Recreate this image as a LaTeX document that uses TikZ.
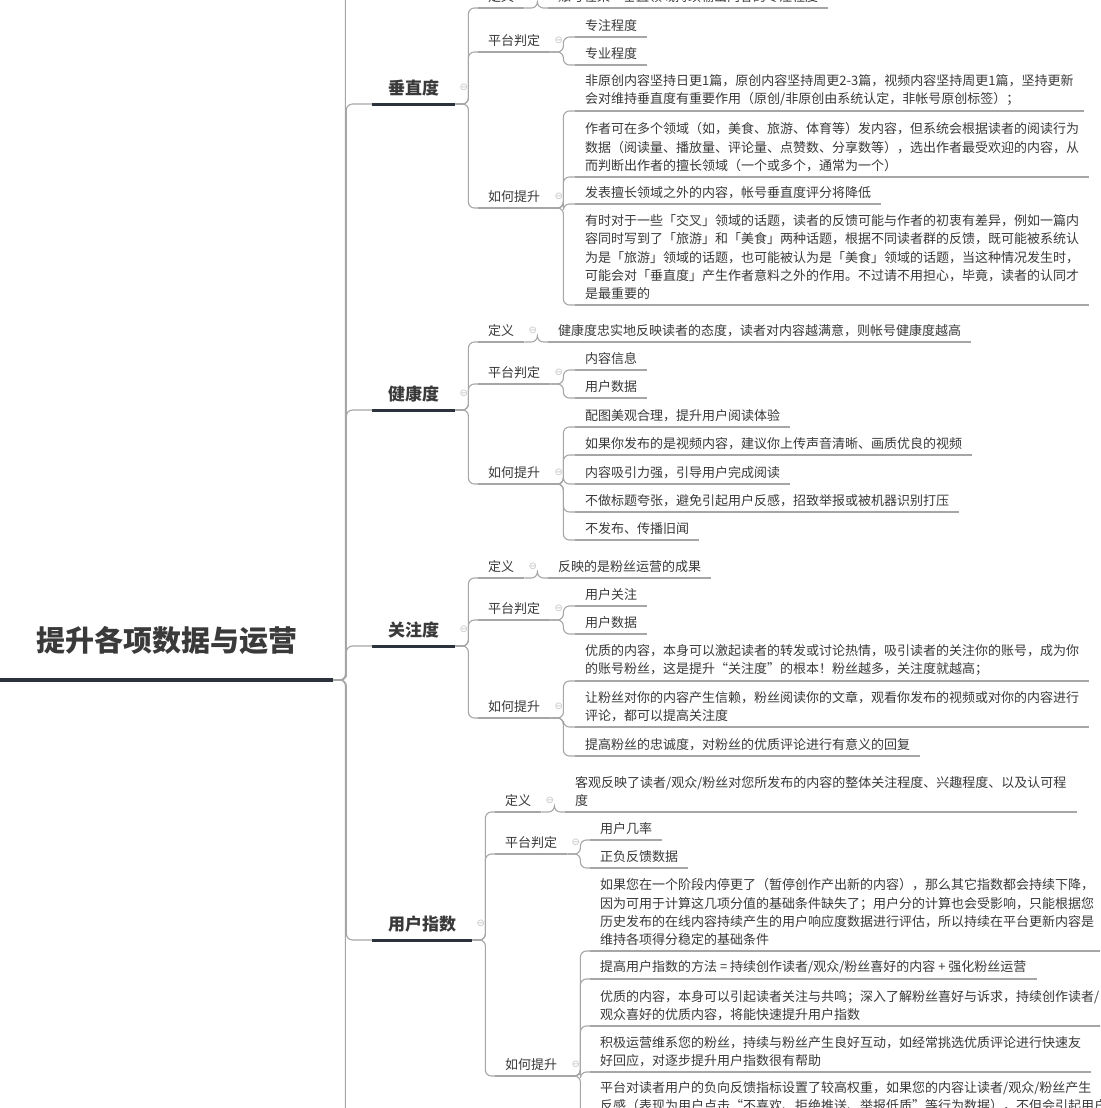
\documentclass[tikz,border=0pt]{standalone}
\usepackage{fontspec}
\setmainfont{Noto Sans CJK SC}
\newfontfamily\symfont{DejaVu Sans}
\definecolor{txtgray}{HTML}{3A3A3A}
\definecolor{linegray}{HTML}{A6A6A6}
\definecolor{darkbar}{HTML}{2C323C}
\definecolor{foldgray}{HTML}{C4C4C4}
\tikzset{x=1pt, y=-1pt,
    conn/.style={draw=linegray, line width=1.1pt, rounded corners=6pt},
    uline/.style={draw=linegray, line width=1.1pt},
    foldmark/.style={inner sep=0pt, text=foldgray, font=\symfont\fontsize{10}{10}\selectfont},
    folded/.style={label={[foldmark, label distance=4pt]right:⊖}},
    underlined/.style={append after command={\pgfextra{\draw[#1] (\tikzlastnode.south west) -- (\tikzlastnode.south east);}}},
    central/.style={anchor=south west, inner xsep=36pt, inner ysep=25pt, text=txtgray,
        font=\fontsize{29}{34}\selectfont\bfseries,
        underlined={draw=darkbar, line width=4pt}},
    major/.style={anchor=south west, inner xsep=16pt, inner ysep=8pt, text=txtgray,
        font=\fontsize{17}{20}\selectfont\bfseries,
        underlined={draw=darkbar, line width=3pt}, folded},
    minor/.style={anchor=south west, inner xsep=10pt, inner ysep=5pt, text=txtgray,
        font=\fontsize{13}{18.3}\selectfont, underlined=uline, folded},
    leaf/.style={anchor=south west, inner xsep=10pt, inner ysep=5pt, text=txtgray,
        align=left, font=\fontsize{13}{18.3}\selectfont, underlined=uline}}

\begin{document}
\begin{tikzpicture}
\useasboundingbox (0,0) rectangle (1100,1108);
\fill[white] (0,0) rectangle (1100,1108);
\clip (0,0) rectangle (1100,1108);

\node[central] (hub) at (0,680) {提升各项数据与运营};
\coordinate (trunktop) at (372,-40);
\coordinate (trunkbot) at (372,1160);

% 垂直度
\node[major] (vert)  at (372,104) {垂直度};
\node[minor] (vdef)  at (478,8)   {定义};
\node[leaf]  (vdefc) at (548,8)   {账号在某一垂直领域持续输出内容的专注程度};
\node[minor] (vplat) at (478,52)  {平台判定};
\node[leaf]  (vp1)   at (575,37)  {专注程度};
\node[leaf]  (vp2)   at (575,65)  {专业程度};
\node[minor] (vhow)  at (478,208) {如何提升};
\node[leaf]  (vh1)   at (575,111) {非原创内容坚持日更1篇，原创内容坚持周更2-3篇，视频内容坚持周更1篇，坚持更新\\会对维持垂直度有重要作用（原创/非原创由系统认定，非帐号原创标签）；};
\node[leaf]  (vh2)   at (575,177) {作者可在多个领域（如，美食、旅游、体育等）发内容，但系统会根据读者的阅读行为\\数据（阅读量、播放量、评论量、点赞数、分享数等），选出作者最受欢迎的内容，从\\而判断出作者的擅长领域（一个或多个，通常为一个）};
\node[leaf]  (vh3)   at (575,204) {发表擅长领域之外的内容，帐号垂直度评分将降低};
\node[leaf]  (vh4)   at (575,305) {有时对于一些「交叉」领域的话题，读者的反馈可能与作者的初衷有差异，例如一篇内\\容同时写到了「旅游」和「美食」两种话题，根据不同读者群的反馈，既可能被系统认\\为是「旅游」领域的话题，也可能被认为是「美食」领域的话题，当这种情况发生时，\\可能会对「垂直度」产生作者意料之外的作用。不过请不用担心，毕竟，读者的认同才\\是最重要的};

% 健康度
\node[major] (health) at (372,410) {健康度};
\node[minor] (hdef)   at (478,342) {定义};
\node[leaf]  (hdefc)  at (548,342) {健康度忠实地反映读者的态度，读者对内容越满意，则帐号健康度越高};
\node[minor] (hplat)  at (478,384) {平台判定};
\node[leaf]  (hp1)    at (575,370) {内容信息};
\node[leaf]  (hp2)    at (575,398) {用户数据};
\node[minor] (hhow)   at (478,484) {如何提升};
\node[leaf]  (hh1)    at (575,427) {配图美观合理，提升用户阅读体验};
\node[leaf]  (hh2)    at (575,455) {如果你发布的是视频内容，建议你上传声音清晰、画质优良的视频};
\node[leaf]  (hh3)    at (575,484) {内容吸引力强，引导用户完成阅读};
\node[leaf]  (hh4)    at (575,512) {不做标题夸张，避免引起用户反感，招致举报或被机器识别打压};
\node[leaf]  (hh5)    at (575,540) {不发布、传播旧闻};

% 关注度
\node[major] (focus) at (372,646) {关注度};
\node[minor] (fdef)  at (478,578) {定义};
\node[leaf]  (fdefc) at (548,578) {反映的是粉丝运营的成果};
\node[minor] (fplat) at (478,620) {平台判定};
\node[leaf]  (fp1)   at (575,606) {用户关注};
\node[leaf]  (fp2)   at (575,634) {用户数据};
\node[minor] (fhow)  at (478,718) {如何提升};
\node[leaf]  (fh1)   at (575,681) {优质的内容，本身可以激起读者的转发或讨论热情，吸引读者的关注你的账号，成为你\\的账号粉丝，这是提升“关注度”的根本！粉丝越多，关注度就越高；};
\node[leaf]  (fh2)   at (575,727) {让粉丝对你的内容产生信赖，粉丝阅读你的文章，观看你发布的视频或对你的内容进行\\评论，都可以提高关注度};
\node[leaf]  (fh3)   at (575,756) {提高粉丝的忠诚度，对粉丝的优质评论进行有意义的回复};

% 用户指数
\node[major] (uidx)  at (372,940) {用户指数};
\node[minor] (udef)  at (495,812) {定义};
\node[leaf]  (udefc) at (565,812) {客观反映了读者/观众/粉丝对您所发布的内容的整体关注程度、兴趣程度、以及认可程\\度};
\node[minor] (uplat) at (495,854) {平台判定};
\node[leaf]  (up1)   at (590,840) {用户几率};
\node[leaf]  (up2)   at (590,868) {正负反馈数据};
\node[minor] (uhow)  at (495,1076) {如何提升};
\node[leaf]  (uh1)   at (590,951) {如果您在一个阶段内停更了（暂停创作产出新的内容），那么其它指数都会持续下降，\\因为可用于计算这几项分值的基础条件缺失了；用户分的计算也会受影响，只能根据您\\历史发布的在线内容持续产生的用户响应度数据进行评估，所以持续在平台更新内容是\\维持各项得分稳定的基础条件};
\node[leaf]  (uh2)   at (590,979) {提高用户指数的方法 = 持续创作读者/观众/粉丝喜好的内容 + 强化粉丝运营};
\node[leaf]  (uh3)   at (590,1026) {优质的内容，本身可以引起读者关注与共鸣；深入了解粉丝喜好与诉求，持续创作读者/\\观众喜好的优质内容，将能快速提升用户指数};
\node[leaf]  (uh4)   at (590,1072) {积极运营维系您的粉丝，持续与粉丝产生良好互动，如经常挑选优质评论进行快速友\\好回应，对逐步提升用户指数很有帮助};
\node[leaf]  (uh5)   at (590,1117) {平台对读者用户的负向反馈指标设置了较高权重，如果您的内容让读者/观众/粉丝产生\\反感（表现为用户点击“不喜欢、拒绝推送、举报低质”等行为数据），不但会引起用户};

% connectors
\foreach \from/\to in {hub/trunktop, hub/trunkbot}
  \draw[conn] (hub.south east) -- ++(12,0) |- (\to);
\foreach \from/\to in {hub/vert, hub/health, hub/focus, hub/uidx,
    vert/vdef, vert/vplat, vert/vhow, vdef/vdefc, vplat/vp1, vplat/vp2,
    vhow/vh1, vhow/vh2, vhow/vh3, vhow/vh4,
    health/hdef, health/hplat, health/hhow, hdef/hdefc, hplat/hp1, hplat/hp2,
    hhow/hh1, hhow/hh2, hhow/hh3, hhow/hh4, hhow/hh5,
    focus/fdef, focus/fplat, focus/fhow, fdef/fdefc, fplat/fp1, fplat/fp2,
    fhow/fh1, fhow/fh2, fhow/fh3,
    uidx/udef, uidx/uplat, uidx/uhow, udef/udefc, uplat/up1, uplat/up2,
    uhow/uh1, uhow/uh2, uhow/uh3, uhow/uh4, uhow/uh5}
  \draw[conn] (\from.south east) -- ++(13,0) |- (\to.south west);
\end{tikzpicture}
\end{document}
